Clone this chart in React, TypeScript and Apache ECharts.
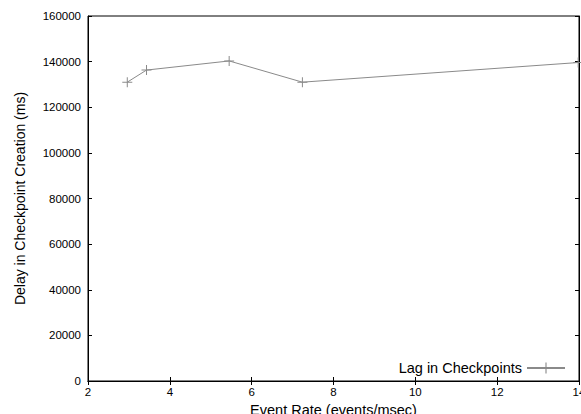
import React, { useEffect, useRef } from "react";
import * as echarts from "echarts";

const xValues = [2.96, 3.43, 5.45, 7.24, 13.98];
const yValues = [131000, 136300, 140300, 131000, 139600];
const xTicks = [2, 4, 6, 8, 10, 12, 14];
const yTicks = [0, 20000, 40000, 60000, 80000, 100000, 120000, 140000, 160000];
const seriesName = "Lag in Checkpoints";

const plus = "path://M4.5,0h1v4.5h4.5v1h-4.5v4.5h-1v-4.5h-4.5v-1h4.5z";

export default function App() {
  const ref = useRef<HTMLDivElement>(null);
  useEffect(() => {
    document.body.style.margin = "0";
    const chart = echarts.init(ref.current!, undefined, { renderer: "svg" });
    const font = "'Liberation Sans', Arial, Helvetica, sans-serif";
    const tickLabel = { color: "#000", fontFamily: font, fontSize: 11.5 };
    chart.setOption({
      animation: false,
      backgroundColor: "#fff",
      grid: {
        left: 88,
        right: 2,
        top: 16,
        bottom: 33,
        show: true,
        borderColor: "#000",
        borderWidth: 1,
        containLabel: false,
        outerBoundsMode: "none",
      },
      legend: {
        data: [seriesName],
        right: 15,
        bottom: 38.5,
        padding: 0,
        align: "right",
        itemWidth: 38,
        itemHeight: 14,
        itemGap: 0,
        textStyle: { color: "#000", fontFamily: font, fontSize: 14.5 },
      },
      xAxis: [
        {
          type: "value",
          min: xTicks[0],
          max: xTicks[xTicks.length - 1],
          interval: 2,
          name: "Event Rate (events/msec)",
          nameLocation: "middle",
          nameGap: 14,
          nameTextStyle: { color: "#000", fontFamily: font, fontSize: 14.5 },
          axisLine: { show: true, lineStyle: { color: "#000" } },
          axisTick: { show: true, inside: true, length: 4, lineStyle: { color: "#000" } },
          axisLabel: { ...tickLabel, margin: 5, showMaxLabel: true, hideOverlap: false },
          splitLine: { show: false },
        },
        {
          type: "value",
          position: "top",
          min: xTicks[0],
          max: xTicks[xTicks.length - 1],
          interval: 2,
          axisLine: { show: true, lineStyle: { color: "#000" } },
          axisTick: { show: true, inside: true, length: 4, lineStyle: { color: "#000" } },
          axisLabel: { show: false },
          splitLine: { show: false },
        },
      ],
      yAxis: [
        {
          type: "value",
          min: yTicks[0],
          max: yTicks[yTicks.length - 1],
          interval: 20000,
          name: "Delay in Checkpoint Creation (ms)",
          nameLocation: "middle",
          nameGap: 61,
          nameTextStyle: { color: "#000", fontFamily: font, fontSize: 14 },
          axisLine: { show: true, lineStyle: { color: "#000" } },
          axisTick: { show: true, inside: true, length: 4, lineStyle: { color: "#000" } },
          axisLabel: { ...tickLabel, margin: 7, formatter: (v: number) => String(v) },
          splitLine: { show: false },
        },
        {
          type: "value",
          position: "right",
          min: yTicks[0],
          max: yTicks[yTicks.length - 1],
          interval: 20000,
          axisLine: { show: true, lineStyle: { color: "#000" } },
          axisTick: { show: true, inside: true, length: 4, lineStyle: { color: "#000" } },
          axisLabel: { show: false },
          splitLine: { show: false },
        },
      ],
      series: [
        {
          name: seriesName,
          type: "line",
          data: xValues.map((x, i) => [x, yValues[i]]),
          symbol: plus,
          symbolSize: 10,
          showAllSymbol: true,
          clip: false,
          lineStyle: { color: "#8a8a8a", width: 1 },
          itemStyle: { color: "#8a8a8a" },
        },
      ],
    });
    return () => chart.dispose();
  }, []);
  return <div ref={ref} style={{ width: 581, height: 414 }} />;
}
